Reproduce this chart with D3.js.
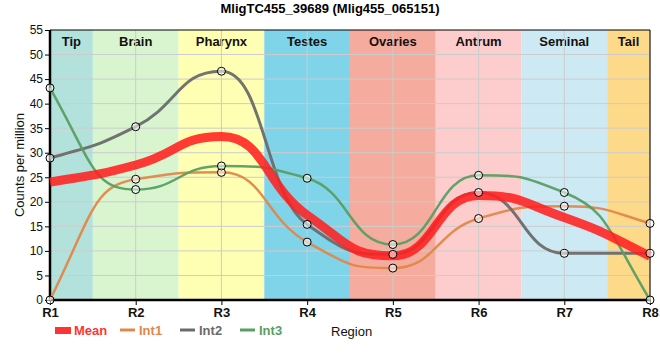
<!DOCTYPE html>
<html><head><meta charset="utf-8">
<script src="https://cdn.jsdelivr.net/npm/d3@7"></script>
<style>body{margin:0;background:#fff;font-family:"Liberation Sans",Arial,sans-serif;}</style>
</head><body><svg id="c" width="660" height="360"></svg>
<script>
const regions = ["R1","R2","R3","R4","R5","R6","R7","R8"];
const tissues = ["Tip","Brain","Pharynx","Testes","Ovaries","Antrum","Seminal","Tail"];
const tissueColors = ["#b3e2dd","#d8f5d0","#ffffb3","#7fd4ea","#f5ab9e","#fdcccc","#cdeaf4","#fdda8a"];
const int1 = [0, 24.6, 26.0, 11.8, 6.5, 16.6, 19.1, 15.6];
const int2 = [28.9, 35.3, 46.6, 15.4, 9.3, 21.9, 9.5, 9.5];
const int3 = [43.2, 22.5, 27.3, 24.8, 11.3, 25.4, 21.9, 0];
const mean = [24.0, 27.5, 33.3, 17.3, 9.0, 21.3, 16.8, 8.9];
const yTicks = [0,5,10,15,20,25,30,35,40,45,50,55];

// Monotone curve (Steffen tangents, as d3.curveMonotoneX) with wider handles
function sgn(v){ return v < 0 ? -1 : 1; }
function WideMono(context){ this._context = context; }
function slope3(that, x2, y2){
  const h0 = that._x1 - that._x0, h1 = x2 - that._x1;
  const s0 = (that._y1 - that._y0) / h0, s1 = (y2 - that._y1) / h1;
  const p = (s0 * h1 + s1 * h0) / (h0 + h1);
  return (sgn(s0) + sgn(s1)) * Math.min(Math.abs(s0), Math.abs(s1), 0.5 * Math.abs(p)) || 0;
}
function slope2(that, t){ const h = that._x1 - that._x0; return h ? (3 * (that._y1 - that._y0) / h - t) / 2 : t; }
function seg(that, t0, t1){
  const x0 = that._x0, y0 = that._y0, x1 = that._x1, y1 = that._y1, dx = (x1 - x0) * 0.5;
  that._context.bezierCurveTo(x0 + dx, y0 + dx * t0, x1 - dx, y1 - dx * t1, x1, y1);
}
WideMono.prototype = {
  areaStart(){}, areaEnd(){},
  lineStart(){ this._x0 = this._x1 = this._y0 = this._y1 = this._t0 = NaN; this._point = 0; },
  lineEnd(){
    if (this._point === 2) this._context.lineTo(this._x1, this._y1);
    else if (this._point === 3) seg(this, this._t0, slope2(this, this._t0));
  },
  point(x, y){
    let t1 = NaN;
    x = +x; y = +y;
    switch (this._point) {
      case 0: this._point = 1; this._context.moveTo(x, y); break;
      case 1: this._point = 2; break;
      case 2: this._point = 3; t1 = slope3(this, x, y); seg(this, slope2(this, t1), t1); break;
      default: t1 = slope3(this, x, y); seg(this, this._t0, t1); break;
    }
    this._x0 = this._x1; this._x1 = x;
    this._y0 = this._y1; this._y1 = y;
    this._t0 = t1;
  }
};
const curveWide = ctx => new WideMono(ctx);

const svg = d3.select("#c");
const L=50, R=650, T=30, B=300;
const x = d3.scalePoint().domain(regions).range([L,R]);
const y = d3.scaleLinear().domain([0,55]).range([B,T]);
const step = x.step();

// bands
const g = svg.append("g");
tissues.forEach((t,i)=>{
  const cx = x(regions[i]);
  const x0 = Math.max(L, cx-step/2), x1 = Math.min(R, cx+step/2);
  g.append("rect").attr("x",x0).attr("y",T).attr("width",x1-x0).attr("height",B-T).attr("fill",tissueColors[i]);
  g.append("text").attr("x",(x0+x1)/2).attr("y",T+16).attr("text-anchor","middle")
    .attr("font-size",13).attr("font-weight","bold").attr("fill","#111").text(t);
});
// grid
yTicks.forEach(v=>{ if(v>0&&v<55) svg.append("line").attr("x1",L).attr("x2",R).attr("y1",y(v)).attr("y2",y(v)).attr("stroke","#ccc").attr("stroke-width",1); });
regions.forEach(r=>{ svg.append("line").attr("x1",x(r)).attr("x2",x(r)).attr("y1",T).attr("y2",B).attr("stroke","#ccc").attr("stroke-width",1); });

// axes
const ya = svg.append("g").attr("transform",`translate(${L},0)`).call(d3.axisLeft(y).tickValues(yTicks).tickSize(5).tickPadding(2));
ya.select(".domain").remove();
ya.selectAll("text").attr("font-size",12).attr("font-family","Liberation Sans, Arial, sans-serif").attr("fill","#111");
const xa = svg.append("g").attr("transform",`translate(0,${B})`).call(d3.axisBottom(x).tickSize(5).tickPadding(3));
xa.select(".domain").remove();
xa.selectAll("text").attr("font-size",13).attr("font-weight","bold").attr("font-family","Liberation Sans, Arial, sans-serif").attr("fill","#111");

// frame
svg.append("line").attr("x1",L).attr("x2",R).attr("y1",T).attr("y2",T).attr("stroke","#000").attr("stroke-width",1);
svg.append("line").attr("x1",R).attr("x2",R).attr("y1",T).attr("y2",B).attr("stroke","#000").attr("stroke-width",1);
svg.append("line").attr("x1",L).attr("x2",L).attr("y1",T).attr("y2",B+1).attr("stroke","#000").attr("stroke-width",2.5);
svg.append("line").attr("x1",L-1).attr("x2",R+1).attr("y1",B).attr("y2",B).attr("stroke","#000").attr("stroke-width",2.5);

const line = d3.line().x((d,i)=>x(regions[i])).y(d=>y(d)).curve(curveWide);
const series = [
  {name:"Int1", data:int1, color:"#e0884a", w:2.5},
  {name:"Int2", data:int2, color:"#6b6b6b", w:3},
  {name:"Int3", data:int3, color:"#5a9e63", w:2.5}
];
series.forEach(s=>{
  svg.append("path").attr("d",line(s.data)).attr("fill","none").attr("stroke",s.color).attr("stroke-width",s.w).attr("opacity",0.95);
});
svg.append("path").attr("d",line(mean)).attr("fill","none").attr("stroke","#ff2020").attr("stroke-width",9).attr("opacity",0.88);
series.forEach(s=>{
  svg.selectAll(null).data(s.data).enter().append("circle")
    .attr("cx",(d,i)=>x(regions[i])).attr("cy",d=>y(d)).attr("r",4)
    .attr("fill","rgba(255,255,255,0.55)").attr("stroke","#000").attr("stroke-width",1);
});

// title
svg.append("text").attr("x",330).attr("y",13).attr("text-anchor","middle").attr("font-size",13).attr("font-weight","bold").attr("fill","#000").text("MligTC455_39689 (Mlig455_065151)");
// y label
svg.append("text").attr("transform","translate(24,165) rotate(-90)").attr("text-anchor","middle").attr("font-size",13).attr("fill","#111").text("Counts per million");
// x label
svg.append("text").attr("x",331).attr("y",336).attr("font-size",13).attr("fill","#111").text("Region");

// legend
const leg = [
  {name:"Mean", color:"#ff3333", rect:true, x:55, tx:74},
  {name:"Int1", color:"#e0884a", x:120, tx:139},
  {name:"Int2", color:"#6b6b6b", x:180, tx:199},
  {name:"Int3", color:"#5a9e63", x:240, tx:259}
];
leg.forEach(l=>{
  if(l.rect) svg.append("rect").attr("x",l.x).attr("y",327).attr("width",16).attr("height",7).attr("fill",l.color);
  else svg.append("line").attr("x1",l.x).attr("x2",l.x+15).attr("y1",330).attr("y2",330).attr("stroke",l.color).attr("stroke-width",3);
  svg.append("text").attr("x",l.tx).attr("y",335).attr("font-size",13).attr("font-weight","bold").attr("fill",l.color).text(l.name);
});
</script></body></html>
